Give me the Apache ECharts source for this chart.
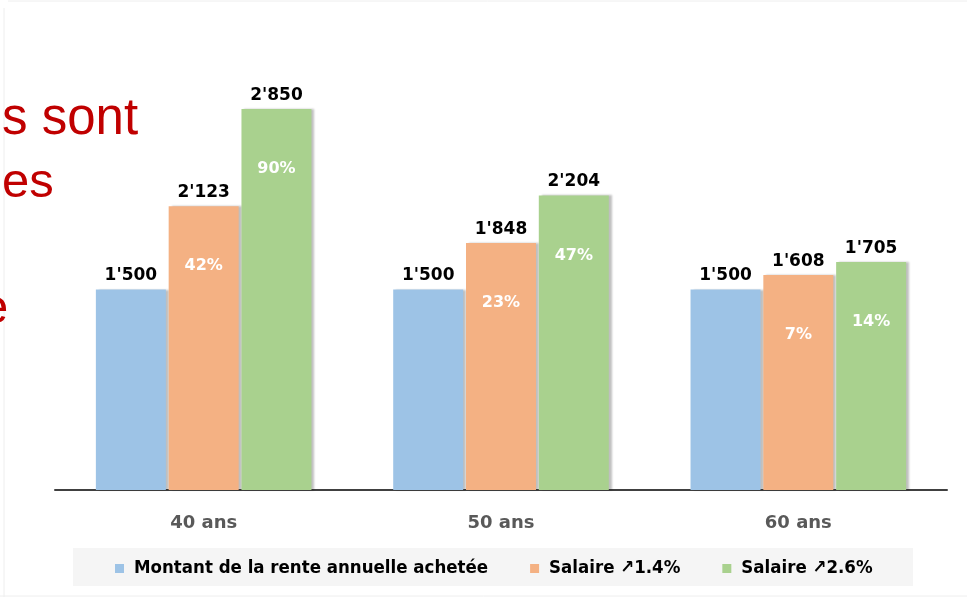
<!DOCTYPE html>
<html>
<head>
<meta charset="utf-8">
<script src="https://cdn.jsdelivr.net/npm/echarts@6/dist/echarts.min.js"></script>
<style>
  html, body { margin: 0; padding: 0; background: #fff; }
  #main { width: 967px; height: 597px; }
</style>
</head>
<body>
<div id="main"></div>
<script>
var categories = ['40 ans', '50 ans', '60 ans'];
var seriesNames = ['Montant de la rente annuelle achetée', 'Salaire \u21971.4%', 'Salaire \u21972.6%'];
var rente = [1500, 1500, 1500];
var salaire14 = [2123, 1848, 1608];
var salaire26 = [2850, 2204, 1705];
var pct14 = ['42%', '23%', '7%'];
var pct26 = ['90%', '47%', '14%'];
var myColor = ['#9dc3e6', '#f4b183', '#a9d18e'];

var fmt = function (v) {
    var s = String(v);
    return s.length > 3 ? s.slice(0, s.length - 3) + "'" + s.slice(s.length - 3) : s;
};
var boldFont = '"DejaVu Sans", sans-serif';
var condFont = '"DejaVu Sans Condensed", "Liberation Sans", sans-serif';

var myChart = echarts.init(document.getElementById('main'));

function valueSeries(name, data, color) {
    return {
        name: name,
        type: 'bar',
        xAxisIndex: 0,
        data: data,
        barWidth: 70,
        barGap: '4%',
        itemStyle: {
            color: color,
            shadowColor: 'rgba(0,0,0,0.25)',
            shadowBlur: 2,
            shadowOffsetX: 3
        },
        label: {
            show: true,
            position: 'top',
            distance: 5,
            formatter: function (p) { return fmt(p.value); },
            color: '#000000',
            fontSize: 17,
            fontWeight: 'bold',
            fontFamily: boldFont
        },
        z: 2
    };
}

function pctSeries(data, labels) {
    return {
        type: 'bar',
        xAxisIndex: 1,
        data: data,
        barWidth: 70,
        barGap: '4%',
        silent: true,
        itemStyle: { color: 'rgba(0,0,0,0)' },
        label: {
            show: labels !== null,
            position: 'insideTop',
            distance: 52,
            formatter: function (p) { return labels ? labels[p.dataIndex] : ''; },
            color: '#ffffff',
            fontSize: 16,
            fontWeight: 'bold',
            fontFamily: boldFont
        },
        z: 3
    };
}

var option = {
    backgroundColor: '#ffffff',
    animation: false,
    grid: { left: 55, right: 20, top: 89, bottom: 107, containLabel: false },
    legend: {
        left: 115,
        top: 559,
        padding: 0,
        itemWidth: 9,
        itemHeight: 9,
        itemGap: 42,
        icon: 'rect',
        data: seriesNames,
        textStyle: {
            color: '#000000',
            fontSize: 18.5,
            fontWeight: 'bold',
            fontFamily: condFont,
            padding: [0, 0, 0, 5]
        }
    },
    xAxis: [{
        type: 'category',
        data: categories,
        axisTick: { show: false },
        axisLine: { lineStyle: { color: '#404040', width: 2 } },
        axisLabel: {
            margin: 24,
            color: '#595959',
            fontSize: 18,
            fontWeight: 'bold',
            fontFamily: boldFont
        }
    }, {
        type: 'category',
        data: categories,
        show: false
    }],
    yAxis: {
        type: 'value',
        min: 0,
        max: 3000,
        show: false,
        splitLine: { show: false }
    },
    graphic: [
        { type: 'rect', z: -1, shape: { x: 73, y: 548, width: 840, height: 38 }, style: { fill: '#f5f5f5' } },
        { type: 'line', shape: { x1: 8, y1: 1, x2: 967, y2: 1 }, style: { stroke: '#eeeeee', lineWidth: 1 } },
        { type: 'line', shape: { x1: 4, y1: 8, x2: 4, y2: 597 }, style: { stroke: '#eeeeee', lineWidth: 1 } },
        { type: 'line', shape: { x1: 0, y1: 596, x2: 967, y2: 596 }, style: { stroke: '#eeeeee', lineWidth: 1 } },
        { type: 'text', x: 2, y: 120, style: { text: 's sont', fill: '#c00000', font: '51px "Liberation Sans", sans-serif', textVerticalAlign: 'middle' } },
        { type: 'text', x: 2, y: 183, style: { text: 'es', fill: '#c00000', font: '49px "Liberation Sans", sans-serif', textVerticalAlign: 'middle' } },
        { type: 'text', x: -19, y: 309, style: { text: 'e', fill: '#c00000', font: '49px "Liberation Sans", sans-serif', textVerticalAlign: 'middle' } }
    ],
    series: [
        valueSeries(seriesNames[0], rente, myColor[0]),
        valueSeries(seriesNames[1], salaire14, myColor[1]),
        valueSeries(seriesNames[2], salaire26, myColor[2]),
        pctSeries(rente, null),
        pctSeries(salaire14, pct14),
        pctSeries(salaire26, pct26)
    ]
};
myChart.setOption(option);
</script>
</body>
</html>
